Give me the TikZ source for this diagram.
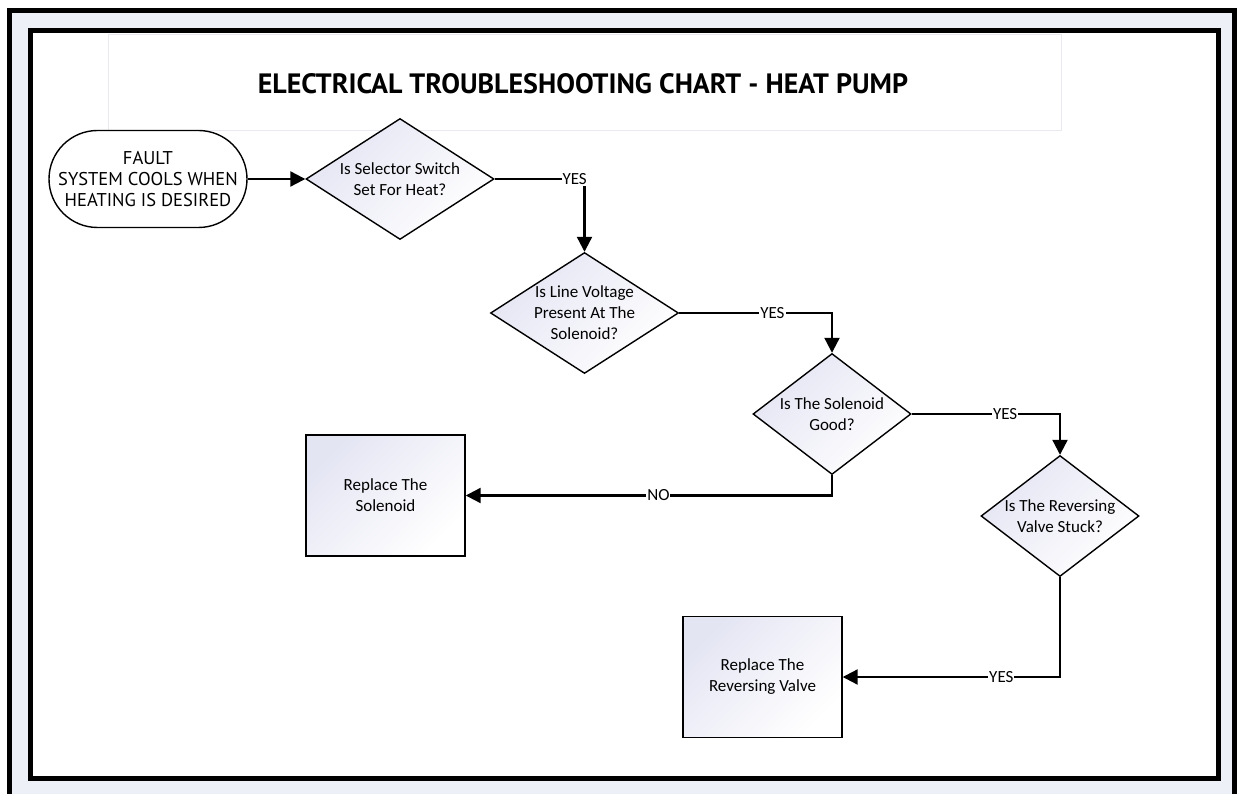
\documentclass[tikz,border=0pt]{standalone}
\usepackage{fontspec}
\usetikzlibrary{shapes.geometric,shapes.misc,arrows.meta}
\newfontfamily\carlito{Carlito}
\newfontfamily\dinf{PT Sans}
\definecolor{band}{HTML}{EEF0F7}
\definecolor{lav}{HTML}{E4E5F3}
\definecolor{tbox}{HTML}{E8EAF0}
\tikzset{
  dia/.style={shape=diamond, draw=black, line width=1.4pt, inner sep=0pt,
    minimum width=#1, minimum height=121pt,
    top color=lav, bottom color=white, shading angle=45},
  dtxt/.style={font=\carlito\fontsize{17}{21}\selectfont, align=center, inner sep=0pt},
  rbox/.style={draw=black, line width=1.4pt, minimum width=159pt, minimum height=121pt,
    top color=lav, bottom color=white, shading angle=45,
    font=\carlito\fontsize{17}{21}\selectfont, align=center},
  term/.style={shape=rounded rectangle, draw=black, line width=1.4pt, fill=white,
    minimum width=198pt, minimum height=97pt, inner sep=0pt,
    font=\dinf\fontsize{18.5}{21}\selectfont, align=center},
  conn/.style={draw=black, line width=2.2pt, -{Triangle[length=15pt,width=15pt]}},
  lbl/.style={fill=white, inner sep=1pt, font=\carlito\fontsize{17}{20}\selectfont}
}
\begin{document}
\begin{tikzpicture}[x=1pt,y=-1pt]
\useasboundingbox (0,0) rectangle (1242,794);
% frames
\fill[band] (9.5,10.5) rectangle (1234.5,794);
\draw[line width=4.5pt] (9.5,794) -- (9.5,10.5) -- (1234.5,10.5) -- (1234.5,794);
\draw[line width=5pt, fill=white] (30,30.5) rectangle (1218.5,778);
% title box
\draw[tbox, line width=1pt, fill=white] (108,35) rectangle (1061,131);
\node[font=\dinf\bfseries\fontsize{28}{30}\selectfont, inner sep=0pt] (title) at (583,84)
  {ELECTRICAL TROUBLESHOOTING CHART - HEAT PUMP};
% nodes
\node[term] (start) at (148,179) {FAULT\\SYSTEM COOLS WHEN\\HEATING IS DESIRED};
\node[dia=188pt] (d1) at (400,179) {};
\node[dtxt] (d1t) at (d1) {Is Selector Switch\\Set For Heat?};
\node[dia=188pt] (d2) at (584.5,313) {};
\node[dtxt] (d2t) at (d2) {Is Line Voltage\\Present At The\\Solenoid?};
\node[dia=158pt] (d3) at (832,414) {};
\node[dtxt] (d3t) at (d3) {Is The Solenoid\\Good?};
\node[dia=158pt] (d4) at (1060,516) {};
\node[dtxt] (d4t) at (d4) {Is The Reversing\\Valve Stuck?};
\node[rbox] (r1) at (385.5,495.5) {Replace The\\Solenoid};
\node[rbox] (r2) at (762.5,677) {Replace The\\Reversing Valve};
% connectors
\draw[conn] (start.east) -- (d1.west);
\draw[conn] (d1.east) -| node[lbl, pos=0.445] (l1) {YES} (d2.north);
\draw[conn] (d2.east) -| node[lbl, pos=0.305] (l2) {YES} (d3.north);
\draw[conn] (d3.east) -| node[lbl, pos=0.315] (l3) {YES} (d4.north);
\draw[conn] (d3.south) |- node[lbl, pos=0.737] (l4) {NO} (r1.east);
\draw[conn] (d4.south) |- node[lbl, pos=0.635] (l5) {YES} (r2.east);
\end{tikzpicture}
\end{document}
